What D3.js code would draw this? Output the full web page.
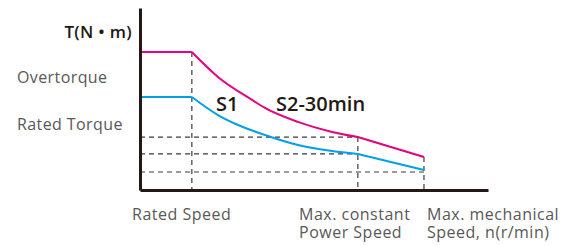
<!DOCTYPE html>
<html>
<head>
<meta charset="utf-8">
<script src="https://cdn.jsdelivr.net/npm/d3@7"></script>
<style>
  body { margin: 0; background: #fff; }
  text { font-family: "Open Sans", "Noto Sans", sans-serif; }
</style>
</head>
<body>
<div id="chart"></div>
<script>
// speed positions (relative units along n axis)
const speedMarks = [14.9, 62.6, 81.6]; // rated, max constant power, max mechanical

// S2-30min curve (overload)
const s2Speed  = [0, 14.9, 22.4, 32.2, 35.9, 45.4, 55.2, 62.6, 81.6];
const s2Torque = [75.8, 75.8, 62.1, 49.5, 45.1, 37.4, 31.9, 29.1, 18.1];

// S1 curve (continuous)
const s1Speed  = [0, 14.9, 22.4, 28.2, 35.9, 45.4, 55.2, 62.6, 81.6];
const s1Torque = [51.1, 51.1, 41.2, 35.7, 30.2, 24.7, 21.4, 19.8, 11.0];

const torqueLabels = ["Overtorque", "Rated Torque"];
const speedLabels = [["Rated Speed"], ["Max. constant", "Power Speed"], ["Max. mechanical", "Speed, n(r/min)"]];

const width = 578, height = 246;
const margin = { left: 140, right: 90, top: 8, bottom: 56 };

const svg = d3.select('#chart').append('svg')
    .attr('width', width)
    .attr('height', height);

const x = d3.scaleLinear().domain([0, 100]).range([margin.left, width - margin.right]);
const y = d3.scaleLinear().domain([0, 100]).range([height - margin.bottom, margin.top]);

const dark = '#231815';
const grey = '#595757';
const dashColor = '#3e3a39';

// dashed guide lines
const guides = svg.append('g')
    .attr('stroke', dashColor)
    .attr('stroke-width', 1.2)
    .attr('stroke-dasharray', '5,4')
    .attr('fill', 'none');

// horizontal guides: from the axis to the knee points
const hGuides = [
    { t: s2Torque[7], n: s2Speed[7] },
    { t: s1Torque[7], n: s1Speed[7] },
    { t: 9.9, n: speedMarks[2] }
];
guides.selectAll('line.h')
    .data(hGuides)
    .enter().append('line')
    .attr('x1', x(0))
    .attr('x2', d => x(d.n))
    .attr('y1', d => y(d.t))
    .attr('y2', d => y(d.t));

// vertical guides
const vGuides = [
    { n: speedMarks[0], t: s2Torque[1] },
    { n: speedMarks[1], t: s2Torque[7] },
    { n: speedMarks[2], t: s2Torque[8] }
];
guides.selectAll('line.v')
    .data(vGuides)
    .enter().append('line')
    .attr('x1', d => x(d.n))
    .attr('x2', d => x(d.n))
    .attr('y1', d => y(d.t))
    .attr('y2', y(0));

// curves
const smooth = d3.line()
    .x(d => x(d[0]))
    .y(d => y(d[1]))
    .curve(d3.curveMonotoneX);
const straight = d3.line()
    .x(d => x(d[0]))
    .y(d => y(d[1]));

function drawCurve(speeds, torques, color) {
    const pts = speeds.map((s, i) => [s, torques[i]]);
    // flat part straight, smooth fall to the knee, last segment straight
    const segs = [
        { pts: pts.slice(0, 2), gen: straight },
        { pts: pts.slice(1, 8), gen: smooth },
        { pts: pts.slice(7), gen: straight }
    ];
    svg.append('g').selectAll('path')
        .data(segs)
        .enter().append('path')
        .attr('fill', 'none')
        .attr('stroke', color)
        .attr('stroke-width', 2)
        .attr('d', d => d.gen(d.pts));
}

drawCurve(s2Speed, s2Torque, '#e4007f');
drawCurve(s1Speed, s1Torque, '#00a0e9');

// axes (domain lines only)
svg.append('g')
    .attr('transform', `translate(${x(0)},0)`)
    .call(d3.axisLeft(y).ticks(0).tickSizeOuter(0))
    .call(g => g.select('.domain').attr('stroke', dark).attr('stroke-width', 3));

svg.append('g')
    .attr('transform', `translate(0,${y(0)})`)
    .call(d3.axisBottom(x).ticks(0).tickSizeOuter(0))
    .call(g => g.select('.domain').attr('stroke', dark).attr('stroke-width', 3));

// axis title
svg.append('text')
    .attr('x', 132)
    .attr('y', 38)
    .attr('text-anchor', 'end')
    .attr('fill', dark)
    .attr('font-size', 17)
    .attr('font-weight', 600)
    .attr('letter-spacing', 0.3)
    .text('T(N • m)');

// torque labels
svg.selectAll('text.tl')
    .data(torqueLabels)
    .enter().append('text')
    .attr('x', 17)
    .attr('y', (d, i) => [83, 130][i])
    .attr('fill', grey)
    .attr('font-size', 16)
    .attr('letter-spacing', 0.4)
    .text(d => d);

// speed labels
const labelX = [132, 299, 427];
speedLabels.forEach((lines, i) => {
    lines.forEach((s, j) => {
        svg.append('text')
            .attr('x', labelX[i])
            .attr('y', 220 + j * 18)
            .attr('fill', grey)
            .attr('font-size', 16)
            .attr('letter-spacing', 0.5)
            .text(s);
    });
});

// curve labels
svg.append('text')
    .attr('x', 216)
    .attr('y', 111)
    .attr('fill', dark)
    .attr('font-size', 20)
    .attr('font-weight', 600)
    .text('S1');

svg.append('text')
    .attr('x', 276)
    .attr('y', 111)
    .attr('fill', dark)
    .attr('font-size', 20)
    .attr('font-weight', 600)
    .text('S2-30min');
</script>
</body>
</html>
